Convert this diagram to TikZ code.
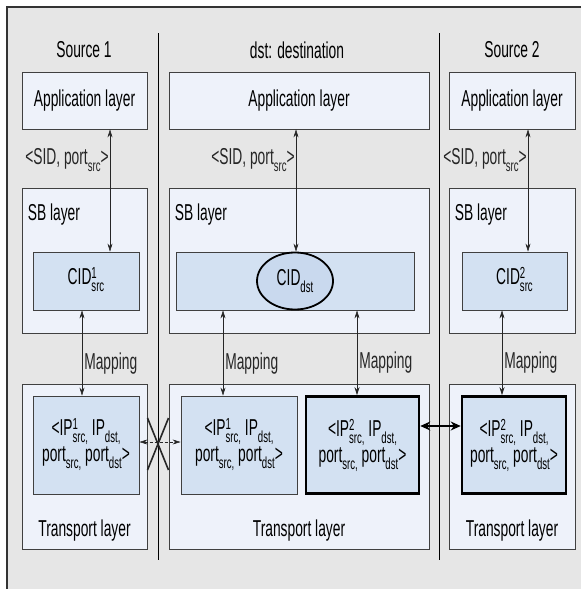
\documentclass[tikz,border=0pt]{standalone}
\usepackage{fontspec}
\setmainfont{Liberation Sans}[FakeStretch=0.6]
\usetikzlibrary{shapes.geometric, arrows.meta}
\definecolor{bggray}{HTML}{E6E6E6}
\definecolor{layerblue}{HTML}{EEF2FA}
\definecolor{idblue}{HTML}{D3E1F2}
\definecolor{ellblue}{HTML}{C9D9EE}
\newcommand\lo[1]{\raisebox{-7pt}{\fontsize{16}{16}\selectfont #1}}
\newcommand\hilo[2]{\raisebox{-7pt}{\fontsize{16}{13}\selectfont\begin{tabular}[b]{@{}l@{}}#1\\#2\end{tabular}}}
\tikzstyle{layer} = [rectangle, draw=black!75, fill=layerblue, line width=0.8pt, inner sep=0pt]
\tikzstyle{idbox} = [rectangle, draw=black!75, fill=idblue, line width=0.8pt, align=center, inner sep=0pt]
\tikzstyle{idthick} = [idbox, draw=black, line width=2.6pt]
\tikzstyle{arrow} = [line width=0.6pt, black!85, {Stealth[length=8pt,width=5pt]}-{Stealth[length=8pt,width=5pt]}]
\tikzstyle{bigarrow} = [line width=1.2pt, {Stealth[length=10pt,width=9pt]}-{Stealth[length=10pt,width=9pt]}]
\tikzstyle{note} = [inner sep=0pt]
\begin{document}
\begin{tikzpicture}[x=1pt, y=-1pt, font=\fontsize{23}{26}\selectfont]
        \useasboundingbox (0,0) rectangle (581,589);
        \fill[bggray] (7,7) rectangle (581,589);
        \draw[line width=1.2pt, black!80] (581,7) -- (7,7) -- (7,589);
        \draw[line width=0.6pt] (158,33) -- (158,560);
        \draw[line width=0.6pt] (439,33) -- (439,560);

        \node (h1) at (84,50) {Source 1};
        \node (hd) at (297,50) {dst: destination};
        \node (h2) at (512,50) {Source 2};

        \node (app1) [layer, minimum width=125pt, minimum height=57pt] at (84.5,100.5) {Application layer};
        \node (appd) [layer, minimum width=260pt, minimum height=57pt] at (299,100.5) {Application layer};
        \node (app2) [layer, minimum width=126pt, minimum height=57pt] at (512,100.5) {Application layer};

        \node (sb1) [layer, minimum width=125pt, minimum height=145pt] at (84.5,260.5) {};
        \node (sbd) [layer, minimum width=260pt, minimum height=145pt] at (299,260.5) {};
        \node (sb2) [layer, minimum width=126pt, minimum height=145pt] at (512,260.5) {};
        \node (sbl1) [note, anchor=base west] at ([xshift=6pt,yshift=-33pt]sb1.north west) {SB layer};
        \node (sbld) [note, anchor=base west] at ([xshift=6pt,yshift=-33pt]sbd.north west) {SB layer};
        \node (sbl2) [note, anchor=base west] at ([xshift=6pt,yshift=-33pt]sb2.north west) {SB layer};

        \node (cid1) [idbox, minimum width=106pt, minimum height=58pt] at (86,281) {CID\hilo{1}{src}};
        \node (cidd) [idbox, minimum width=238pt, minimum height=58pt] at (295,281) {};
        \node (cid2) [idbox, minimum width=105pt, minimum height=58pt] at (514.5,281) {CID\hilo{2}{src}};
        \node (ell) [ellipse, draw=black, line width=1.8pt, fill=ellblue, minimum width=76pt, minimum height=57pt, inner sep=0pt] at (295,281) {CID\lo{dst}};

        \node (tr1) [layer, minimum width=125pt, minimum height=165pt] at (84.5,466.5) {};
        \node (trd) [layer, minimum width=260pt, minimum height=165pt] at (299,466.5) {};
        \node (tr2) [layer, minimum width=126pt, minimum height=165pt] at (512,466.5) {};
        \node (trl1) [note, anchor=base] at ([yshift=13pt]tr1.south) {Transport layer};
        \node (trld) [note, anchor=base] at ([yshift=13pt]trd.south) {Transport layer};
        \node (trl2) [note, anchor=base] at ([yshift=13pt]tr2.south) {Transport layer};

        \node (ip1) [idbox, minimum width=106pt, minimum height=98pt] at (86,445) {\textless IP\hilo{1}{src,} IP\lo{dst,}\\port\lo{src,} port\lo{dst}\textgreater};
        \node (ipd1) [idbox, minimum width=116pt, minimum height=98pt] at (239,445) {\textless IP\hilo{1}{src,} IP\lo{dst,}\\port\lo{src,} port\lo{dst}\textgreater};
        \node (ipd2) [idthick, minimum width=113pt, minimum height=97pt] at (362.5,445) {\textless IP\hilo{2}{src,} IP\lo{dst,}\\port\lo{src,} port\lo{dst}\textgreater};
        \node (ip2) [idthick, minimum width=104pt, minimum height=97pt] at (514,445) {\textless IP\hilo{2}{src,} IP\lo{dst,}\\port\lo{src,} port\lo{dst}\textgreater};

        \draw[arrow] ([xshift=25.5pt]app1.south) --node[pos=0.25, left, inner sep=1pt]{\textless SID, port\lo{src}\textgreater} ([xshift=24pt]cid1.north);
        \draw[arrow] ([xshift=-3pt]appd.south) --node[pos=0.25, left, inner sep=1pt]{\textless SID, port\lo{src}\textgreater} ([xshift=1pt]ell.north);
        \draw[arrow] ([xshift=16pt]app2.south) --node[pos=0.25, left, inner sep=1pt]{\textless SID, port\lo{src}\textgreater} ([xshift=13.5pt]cid2.north);

        \draw[arrow] ([xshift=-4pt]cid1.south) --node[pos=0.62, right, inner sep=2pt]{Mapping} ([xshift=-4pt]ip1.north);
        \draw[arrow] ([xshift=-72pt]cidd.south) --node[pos=0.62, right, inner sep=2pt]{Mapping} ([xshift=-16pt]ipd1.north);
        \draw[arrow] ([xshift=62pt]cidd.south) --node[pos=0.62, right, inner sep=2pt]{Mapping} ([xshift=-5.5pt]ipd2.north);
        \draw[arrow] ([xshift=-12.5pt]cid2.south) --node[pos=0.62, right, inner sep=2pt]{Mapping} ([xshift=-12pt]ip2.north);

        \draw[arrow, dash pattern=on 3pt off 2pt] ([yshift=3pt]ip1.east) -- ([yshift=3pt]ipd1.west);
        \coordinate (cut) at (158,444);
        \draw[line width=1.6pt, black!85] (cut) +(-10.5,-26) -- +(10.5,26) +(10.5,-26) -- +(-10.5,26);
        \draw[bigarrow] ([yshift=19pt]ipd2.east) -- ([yshift=19pt]ip2.west);
    \end{tikzpicture}
\end{document}
